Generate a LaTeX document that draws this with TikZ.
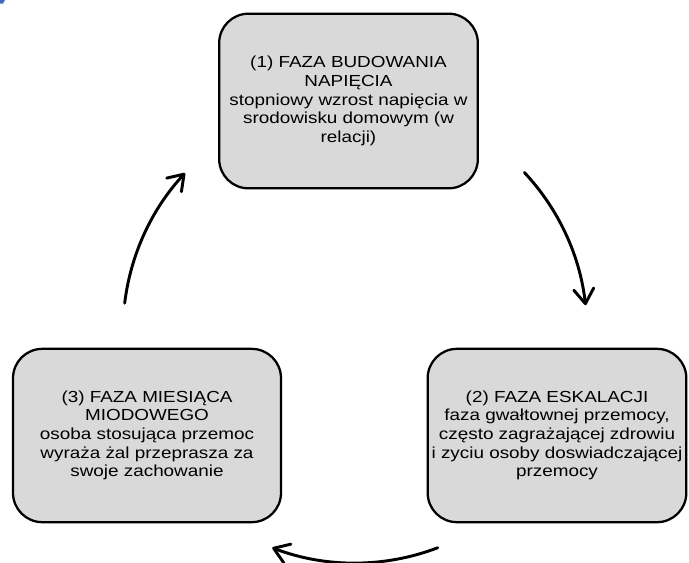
\documentclass[tikz,border=0pt]{standalone}
\usepackage{fontspec}
\setmainfont{Liberation Sans}[FakeStretch=1.18]
\usetikzlibrary{arrows.meta,calc}
\definecolor{boxgrey}{HTML}{D9D9D9}
\definecolor{markblue}{HTML}{3F6DB8}

\begin{document}
\begin{tikzpicture}[x=0.75pt,y=-0.75pt,
  phase/.style={draw=black, line width=1.7pt, fill=boxgrey,
    rounded corners=22pt, align=center, inner sep=0pt,
    font=\fontsize{12}{14}\selectfont},
  cyc/.style={line width=2.2pt, line cap=round,
    -{Straight Barb[length=11pt,width=15pt,line cap=round,line join=round]}}]

\useasboundingbox (0,0) rectangle (689,562);

% small blue fragment in the corner
\fill[markblue] (0,0) -- (5,0) -- (3,3.5) -- (0,3.5) -- cycle;

% the three phases of the cycle
\node[phase, minimum width=194pt, minimum height=131pt] (build) at (348.5,101)
  {(1) FAZA BUDOWANIA\\NAPIĘCIA\\stopniowy wzrost napięcia w\\srodowisku domowym (w\\relacji)};
\node[phase, minimum width=194pt, minimum height=130pt] (escal) at (557,435.5)
  {(2) FAZA ESKALACJI\\faza gwałtownej przemocy,\\często zagrażającej zdrowiu\\i zyciu osoby doswiadczającej\\przemocy};
\node[phase, minimum width=201pt, minimum height=130pt] (honey) at (147,435.5)
  {(3) FAZA MIESIĄCA\\MIODOWEGO\\osoba stosująca przemoc\\wyraża żal przeprasza za\\swoje zachowanie};

% arrows: arcs of one circle around the middle
\coordinate (C) at (355,331);
\coordinate (aL) at ($(C)+(173.1:174pt)$);
\coordinate (aR) at ($(C)+(43.1:174pt)$);
\coordinate (aB) at ($(C)+(-69.1:174pt)$);

\draw[cyc] (aL) arc[start angle=173.1, end angle=137.1, radius=174pt];
\draw[cyc] (aR) arc[start angle=43.1, end angle=6.4, radius=174pt];
\draw[cyc] (aB) arc[start angle=-69.1, end angle=-110.9, radius=174pt];
\end{tikzpicture}
\end{document}
